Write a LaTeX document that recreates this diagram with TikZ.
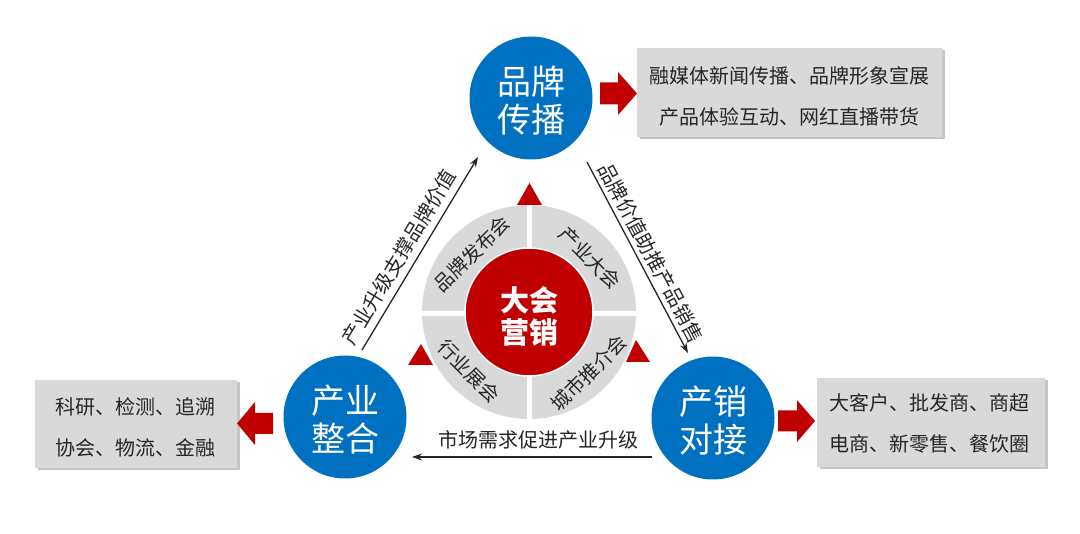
\documentclass[tikz,border=0pt]{standalone}
\usepackage{fontspec}
\newfontfamily\cjk{Noto Sans CJK SC}
\usetikzlibrary{shadows,arrows.meta}
\definecolor{myblue}{HTML}{0070C0}
\definecolor{myred}{HTML}{C00000}
\definecolor{boxgray}{HTML}{D9D9D9}
\definecolor{txt}{HTML}{262626}
\begin{document}
\begin{tikzpicture}[x=1pt,y=-1pt,
  hub/.style={circle, fill=myblue, minimum size=123pt, inner sep=0pt},
  hubtext/.style={text=white, align=center, inner sep=0pt, font=\cjk\fontsize{34}{38}\selectfont},
  core/.style={circle, fill=myred, draw=white, line width=1.5pt, minimum size=128pt, inner sep=0pt},
  coretext/.style={text=white, align=center, inner sep=0pt, font=\cjk\bfseries\fontsize{29}{32}\selectfont},
  infobox/.style={fill=boxgray, inner sep=0pt,
    drop shadow={shadow xshift=2.5pt, shadow yshift=-2.5pt, opacity=0.5, fill=black!45}},
  boxtext/.style={align=center, text=txt, inner sep=0pt, font=\cjk\fontsize{20}{41}\selectfont},
  ringtext/.style={text=txt, inner sep=0pt, font=\cjk\fontsize{19.5}{20}\selectfont},
  linelabel/.style={text=txt, inner sep=0pt, font=\cjk\fontsize{20}{20}\selectfont},
  conn/.style={-{Stealth[length=10pt,width=7pt]}, line width=1.3pt, draw=black!85},
  blockarrow/.style={fill=myred},
  tri/.style={fill=myred}
]
\path[fill=white, use as bounding box] (0,0) rectangle (1080,534);

% ring
\fill[boxgray] (529,312) circle (107);
\fill[white] (526.5,203) rectangle (531.5,421);
\fill[white] (420,311.5) rectangle (638,316.5);
\node[core] (core) at (529,312) {};
\node[coretext] (coret) at (529,316) {大会\\营销};

% triangles
\fill[tri] (517,205) -- (529.5,183) -- (542,205) -- cycle;
\fill[tri] (408,365) -- (421,344) -- (433,365) -- cycle;
\fill[tri] (626,362) -- (636,340) -- (650,362) -- cycle;

% ring texts
\node[ringtext, rotate=45]  (r1) at (472,254) {品牌发布会};
\node[ringtext, rotate=-45] (r2) at (590,258) {产业大会};
\node[ringtext, rotate=-45] (r3) at (469,371) {行业展会};
\node[ringtext, rotate=45]  (r4) at (589,373) {城市推介会};

% hubs
\node[hub] (brand) at (531,98) {};
\node[hubtext] (brandt) at (531,101) {品牌\\传播};
\node[hub] (ind) at (345,417) {};
\node[hubtext] (indt) at (345,420) {产业\\整合};
\node[hub] (sales) at (713,418) {};
\node[hubtext] (salest) at (713,421) {产销\\对接};

% info boxes
\node[infobox, minimum width=305pt, minimum height=89pt] (bbox) at (789.5,92.5) {};
\node[boxtext] (bboxt) at (789.5,96.5) {融媒体新闻传播、品牌形象宣展\\产品体验互动、网红直播带货};
\node[infobox, minimum width=202pt, minimum height=88pt] (ibox) at (136,424) {};
\node[boxtext] (iboxt) at (136,427.5) {科研、检测、追溯\\协会、物流、金融};
\node[infobox, minimum width=228pt, minimum height=89pt] (sbox) at (931,422.5) {};
\node[boxtext] (sboxt) at (929,423.5) {大客户、批发商、商超\\电商、新零售、餐饮圈};

% block arrows
\fill[blockarrow] (600,82.5) -- (618,82.5) -- (618,72) -- (637,93.5) -- (618,115) -- (618,104.5) -- (600,104.5) -- cycle;
\fill[blockarrow] (273,413) -- (255,413) -- (255,402) -- (237,423.5) -- (255,445) -- (255,434) -- (273,434) -- cycle;
\fill[blockarrow] (778,410.5) -- (797,410.5) -- (797,400) -- (815,421) -- (797,442) -- (797,431.5) -- (778,431.5) -- cycle;

% connectors
\coordinate (c1s) at (362,350); \coordinate (c1e) at (478,157);
\coordinate (c2s) at (587,162); \coordinate (c2e) at (688,353);
\coordinate (c3s) at (652,457); \coordinate (c3e) at (412,457);
\draw[conn] (c1s) -- (c1e);
\draw[conn] (c2s) -- (c2e);
\draw[conn] (c3s) -- (c3e);

% connector labels
\node[linelabel, rotate=59]  (l1) at (399,257) {产业升级支撑品牌价值};
\node[linelabel, rotate=-62] (l2) at (651,253) {品牌价值助推产品销售};
\node[linelabel] (l3) at (538,440) {市场需求促进产业升级};
\end{tikzpicture}
\end{document}
